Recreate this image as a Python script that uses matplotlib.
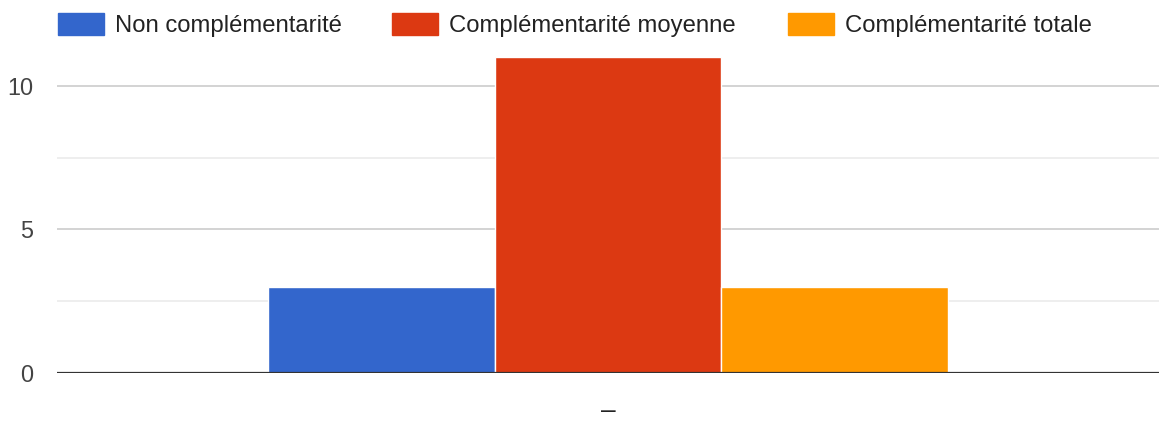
import matplotlib
matplotlib.use("Agg")
import matplotlib.pyplot as plt
from matplotlib.patches import Rectangle

series = ["Non complémentarité", "Complémentarité moyenne", "Complémentarité totale"]
values = [3, 11, 3]
colors = ["#3366cc", "#dc3912", "#ff9900"]
category = "–"
yticks = [0, 5, 10]
minor_ticks = [2.5, 7.5]

plt.rcParams['font.family'] = ['Liberation Sans', 'DejaVu Sans']

W, H = 1159, 423
fig = plt.figure(figsize=(W / 100, H / 100), dpi=100)
ax = fig.add_axes([57 / W, 50 / H, (W - 57) / W, 316 / H])

bw = 0.411
n = len(values)
for i, (v, c) in enumerate(zip(values, colors)):
    x = (i - (n - 1) / 2) * bw
    ax.bar(x, v, width=bw, color=c, edgecolor="white", linewidth=1, zorder=3)

ax.set_xlim(-1, 1)
ax.set_ylim(0, 11)
for y in yticks[1:]:
    ax.axhline(y, color="#cccccc", linewidth=1.2, zorder=1)
for y in minor_ticks:
    ax.axhline(y, color="#ebebeb", linewidth=1.2, zorder=1)
ax.axhline(0, color="#333333", linewidth=1.6, zorder=4)

ax.set_yticks(yticks)
ax.set_yticklabels([str(t) for t in yticks], fontsize=16.8, color="#444444")
ax.set_xticks([0])
ax.set_xticklabels([category], fontsize=19, color="#222222")
ax.tick_params(axis="y", length=0, pad=17)
ax.tick_params(axis="x", length=0, pad=19)
for s in ax.spines.values():
    s.set_visible(False)

# legend
patch_x = [58, 392, 788]
for px, lab, c in zip(patch_x, series, colors):
    fig.patches.append(Rectangle((px / W, 1 - 35 / H), 46 / W, 22 / H,
                                 transform=fig.transFigure, color=c))
    fig.text((px + 57) / W, 1 - 32 / H, lab, fontsize=17.2, color="#222222",
             va="baseline", ha="left")

fig.savefig("out.png", dpi=100)
